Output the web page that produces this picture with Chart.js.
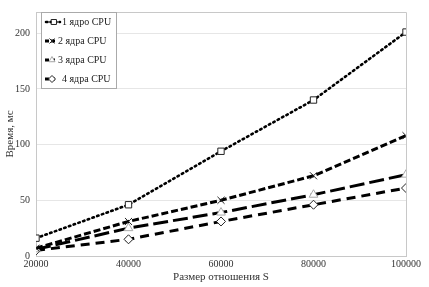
<!DOCTYPE html>
<html>
<head>
<meta charset="utf-8">
<script src="https://cdn.jsdelivr.net/npm/chart.js@4"></script>
<style>
  html, body { margin: 0; padding: 0; background: #fff; }
  #wrap { width: 429px; height: 287px; }
</style>
</head>
<body>
<div id="wrap"><canvas id="chart" width="429" height="287"></canvas></div>
<script>
const sizes = [20000, 40000, 60000, 80000, 100000];
const seriesNames = ["1 ядро CPU", "2 ядра CPU", "3 ядра CPU", "4 ядра CPU"];
const core1 = [16, 46, 94, 140, 201];
const core2 = [7, 31, 50, 72, 108];
const core3 = [6, 25, 39, 55, 73];
const core4 = [5, 15, 31, 46, 61];
const yTicks = [0, 50, 100, 150, 200];

const FONT = "'Liberation Serif', 'DejaVu Serif', serif";

const toPoints = (vals) => vals.map((v, i) => ({ x: sizes[i], y: v }));

const styles = [
  { dash: [1.5, 3.5], width: 2.6, cap: "round", point: "rect", pColor: "#222", radius: 4.5 },
  { dash: [7, 3], width: 3, cap: "butt", point: "crossRot", pColor: "#222", radius: 5 },
  { dash: [15, 5], width: 3, cap: "butt", point: "triangle", pColor: "#aaa", radius: 5 },
  { dash: [9, 6], width: 3, cap: "butt", point: "rectRot", pColor: "#222", radius: 4.5 },
];

const datasets = [core1, core2, core3, core4].map((vals, i) => ({
  label: seriesNames[i],
  data: toPoints(vals),
  borderColor: "#000",
  borderWidth: styles[i].width,
  borderDash: styles[i].dash,
  borderCapStyle: styles[i].cap,
  pointStyle: styles[i].point,
  pointRadius: styles[i].radius,
  pointBorderWidth: 1,
  pointBorderColor: styles[i].pColor,
  pointBackgroundColor: "#fff",
  fill: false,
  tension: 0,
}));

// legend drawn inside the plot, like the Excel original
const insideLegend = {
  id: "insideLegend",
  afterDatasetsDraw(chart) {
    const ctx = chart.ctx;
    const x0 = 41, y0 = 12, w = 75, h = 76;
    ctx.save();
    ctx.fillStyle = "#fff";
    ctx.fillRect(x0, y0, w, h);
    ctx.strokeStyle = "#aaa";
    ctx.lineWidth = 1;
    ctx.strokeRect(x0 + 0.5, y0 + 0.5, w, h);
    chart.data.datasets.forEach((ds, i) => {
      const cy = y0 + 10 + i * 19;
      const x1 = i === 0 ? x0 + 5 : x0 + 4;
      const x2 = i === 0 ? x0 + 19 : x0 + 16;
      ctx.beginPath();
      ctx.setLineDash(i === 0 ? [1.5, 3] : [4, 2]);
      ctx.lineCap = ds.borderCapStyle;
      ctx.lineWidth = ds.borderWidth;
      ctx.strokeStyle = "#000";
      ctx.moveTo(x1, cy);
      ctx.lineTo(x2, cy);
      ctx.stroke();
      ctx.setLineDash([]);
      ctx.fillStyle = "#fff";
      ctx.strokeStyle = ds.pointBorderColor;
      ctx.lineWidth = 1;
      Chart.helpers.drawPoint(ctx, { pointStyle: ds.pointStyle, radius: 3.5, borderWidth: 1 }, (x1 + x2) / 2 + 1, cy);
      ctx.fillStyle = "#222";
      ctx.font = "10px " + FONT;
      ctx.textBaseline = "middle";
      ctx.fillText(ds.label, x0 + (i === 0 ? 21 : i === 3 ? 21 : 17), cy);
    });
    ctx.restore();
  },
};

const plotFrame = {
  id: "plotFrame",
  beforeDatasetsDraw(chart) {
    const { ctx, chartArea: a } = chart;
    ctx.save();
    ctx.strokeStyle = "#c8c8c8";
    ctx.lineWidth = 1;
    ctx.beginPath();
    ctx.moveTo(a.left, a.top + 0.5);
    ctx.lineTo(a.right + 0.5, a.top + 0.5);
    ctx.lineTo(a.right + 0.5, a.bottom);
    ctx.stroke();
    ctx.restore();
  },
};

new Chart(document.getElementById("chart"), {
  type: "line",
  data: { datasets: datasets },
  options: {
    responsive: false,
    animation: false,
    layout: { padding: { left: 4, right: 23, top: 6, bottom: 3 } },
    plugins: { legend: { display: false }, tooltip: { enabled: false } },
    scales: {
      x: {
        type: "linear",
        min: 20000,
        max: 100000,
        afterBuildTicks: (axis) => { axis.ticks = sizes.map((v) => ({ value: v })); },
        afterFit: (axis) => { axis.height = 28; },
        grid: { display: false, drawTicks: false },
        border: { color: "#c8c8c8" },
        ticks: { color: "#333", font: { family: FONT, size: 10 }, padding: 2, maxRotation: 0, callback: (v) => String(v) },
        title: { display: true, text: "Размер отношения S", color: "#333", font: { family: FONT, size: 11 }, padding: { top: 0, bottom: 0 } },
      },
      y: {
        min: 0,
        max: 219,
        afterBuildTicks: (axis) => { axis.ticks = yTicks.map((v) => ({ value: v })); },
        afterFit: (axis) => { axis.width = 32; },
        grid: { color: "#e6e6e6", drawTicks: false },
        border: { color: "#c8c8c8" },
        ticks: { color: "#333", font: { family: FONT, size: 10 }, padding: 6 },
        title: { display: true, text: "Время, мс", color: "#333", font: { family: FONT, size: 11 }, padding: 0 },
      },
    },
  },
  plugins: [plotFrame, insideLegend],
});
</script>
</body>
</html>
